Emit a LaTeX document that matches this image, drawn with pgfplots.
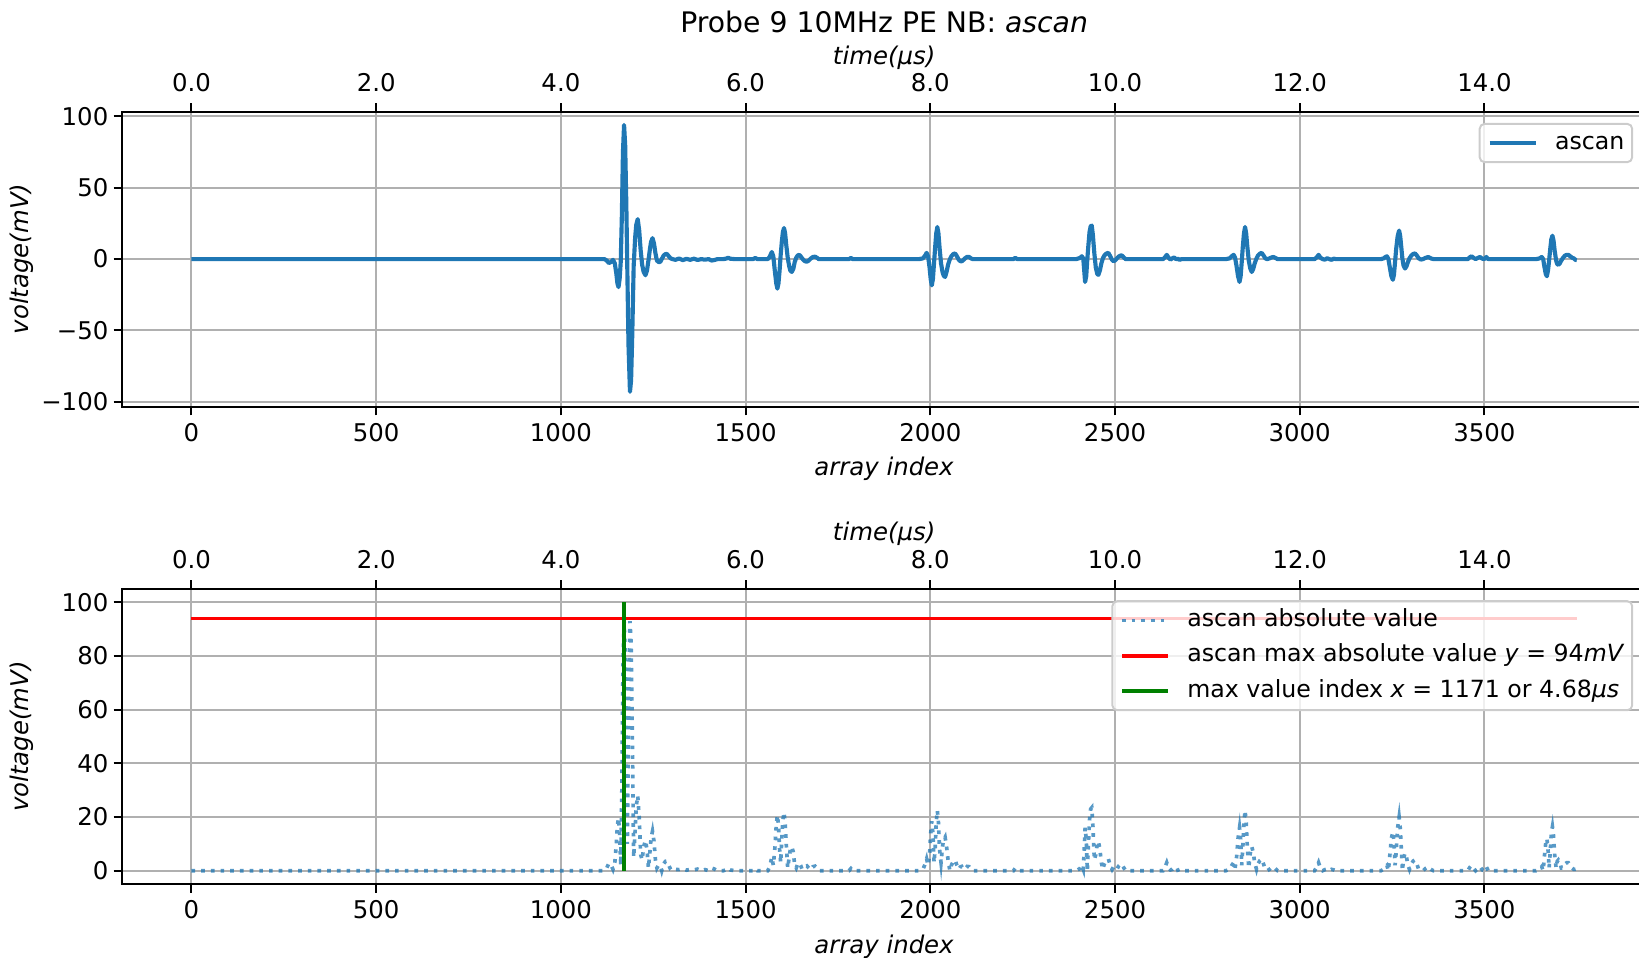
\documentclass[border=0pt]{standalone}
\usepackage{fontspec}
\setmainfont{DejaVu Sans}
\usepackage{pgfplots}
\usepackage{pgfplotstable}
\pgfplotsset{compat=1.18}

\definecolor{c0}{HTML}{1F77B4}
\definecolor{gridc}{HTML}{B0B0B0}
\definecolor{legframe}{HTML}{CCCCCC}
\definecolor{mplgreen}{HTML}{008000}
\definecolor{mplred}{HTML}{FF0000}
\newcommand{\fs}{\fontsize{10}{12}\selectfont}
\newcommand{\lfs}{\fontsize{9.7}{11.6}\selectfont}

% ascan samples (array index, mV)
\pgfplotstableread{
idx mv
0 0
1100 0
1118 0
1124 -1
1130 -2.8
1136 -2
1141 -0.5
1146 -3
1150 -10
1153 -17
1156 -19.6
1159 -14
1162 -2
1165 30
1168 75
1171 94
1174 80
1177 40
1180 -10
1183 -60
1187 -93
1190 -85
1193 -55
1197 -5
1201 15
1204 24
1208 28
1212 20
1216 6
1220 -4
1224 -9
1229 -11.3
1233 -8
1237 -1
1241 7
1244 12
1248 14.7
1252 11
1256 4
1260 -1
1264 -2
1269 -2
1273 0
1278 2.5
1283 3.5
1287 3.6
1292 2
1297 0.5
1302 0
1310 -0.5
1320 0.4
1330 -0.7
1340 0.2
1350 -0.5
1360 0.3
1370 -0.6
1380 0
1390 -0.4
1400 0
1408 -1
1416 -0.6
1424 0
1440 0
1448 0.4
1453 1
1458 0.3
1470 0
1520 0
1526 0.8
1532 0
1560 0
1565 1.5
1571 5
1575 2
1579 -8
1583 -17
1586 -20.7
1589 -17
1592 -8
1595 3
1598 12
1601 19
1604 21.8
1607 18
1610 10
1614 1
1618 -5
1621 -8
1625 -9
1629 -7
1633 -2
1637 1
1641 2.5
1645 3
1649 2
1653 0.5
1658 -1
1662 -1.6
1666 -1.8
1671 -1
1676 0.3
1682 1.5
1688 1.7
1693 1
1698 0
1780 0
1785 0.8
1790 0
1970 0
1980 0.5
1986 2.5
1990 4.4
1994 2
1998 -6
2001 -14
2004 -18.4
2007 -14
2010 -3
2013 8
2016 18
2019 22.5
2022 18
2025 8
2029 -3
2033 -9
2036 -11.5
2040 -12.5
2044 -9
2048 -4
2053 0
2057 2
2062 3.5
2067 4
2072 2
2077 -0.5
2081 -1.4
2085 -1.6
2090 -0.5
2095 0.8
2100 1.6
2105 1.5
2110 0.5
2115 0
2225 0
2230 0.9
2235 0
2395 0
2405 0.8
2410 2
2414 0.5
2416 -6
2419 -16
2422 -12
2425 0
2428 10
2431 19
2434 23
2437 23.5
2440 17
2444 4
2448 -6
2452 -10.5
2455 -11
2459 -8
2463 -3
2467 0.5
2471 2.5
2476 3.8
2482 4.4
2487 2
2492 -0.5
2496 -1.5
2500 -1
2505 0.5
2510 1.8
2515 2.5
2519 2.5
2524 1
2529 0
2630 0
2635 1.2
2640 3
2645 1
2650 -0.3
2655 0.5
2660 1.2
2665 0
2670 0.2
2675 -0.5
2680 0
2800 0
2810 0.5
2816 2
2821 3
2825 1
2829 -5
2833 -12
2837 -16
2840 -12
2843 -2
2846 9
2849 18
2852 22.5
2855 18
2858 9
2862 -1
2866 -6.5
2870 -9
2874 -7
2878 -3
2883 0.5
2887 2.5
2892 3.8
2897 4.4
2902 2.5
2907 0.5
2912 0
2918 0.5
2924 1.2
2929 1.5
2934 0.8
2940 0
3040 0
3046 1.2
3051 3
3056 1
3062 0
3068 -0.4
3074 0.6
3080 0
3086 -0.5
3092 0.3
3098 0
3220 0
3228 0.6
3232 1.5
3236 2
3240 0
3244 -6
3248 -12
3252 -14.5
3255 -11
3258 -2
3261 7
3265 16
3269 20
3272 16
3275 8
3278 0
3281 -4.5
3285 -6.6
3289 -5
3293 -2
3297 0.5
3302 2.5
3307 3.6
3312 4
3317 2.5
3322 0.5
3328 -0.3
3334 0
3340 0.8
3348 1.5
3355 0.5
3362 0
3455 0
3460 1.2
3465 2
3470 1
3476 0
3482 0.8
3488 1.5
3494 0.3
3500 0
3505 1.5
3510 0
3640 0
3648 0.4
3652 1
3655 1.5
3659 0
3662 -5
3666 -10.5
3669 -12
3672 -8
3675 -1
3678 7
3681 14
3684 16.4
3687 13
3690 6
3694 -1
3697 -3.5
3700 -4
3704 -3
3708 -1
3713 1
3718 2.5
3723 3
3727 3
3732 2
3737 1
3742 0.5
3746 -0.5
3750 -0.7
}\ascan

\pgfplotsset{
  base/.style={
    scale only axis, width=624.8pt, height=121pt,
    anchor=south west,
    xmin=-187.5, xmax=3937.5,
    axis line style={black, line width=0.8pt},
    tick style={black, line width=0.8pt},
    tick align=outside, major tick length=3.5pt,
    xtick pos=bottom, ytick pos=left,
    grid=major, grid style={gridc, line width=0.8pt},
    xtick={0,500,...,3500},
    xticklabels={0,500,1000,1500,2000,2500,3000,3500},
    tick label style={font=\fs},
    xticklabel style={anchor=north, inner sep=0pt, yshift=-3.1pt},
    yticklabel style={anchor=east, inner sep=0pt, xshift=-2pt},
    legend cell align=left,
    legend image code/.code={\draw[##1] (0pt,0pt) -- (19pt,0pt);},
    legend style={font=\lfs, at={(1,1)}, anchor=north east,
      xshift=-5.3pt, yshift=-4.6pt,
      draw=legframe, line width=0.8pt, fill=white, fill opacity=0.8,
      text opacity=1, rounded corners=2pt,
      inner xsep=3.2pt, inner ysep=3pt,
      nodes={inner sep=0pt, text height=7.4pt, text depth=2.3pt},
      row sep=4.8pt,
      /tikz/every odd column/.append style={column sep=7pt}},
  },
  timeax/.style={
    scale only axis, width=624.8pt, height=121pt,
    anchor=south west,
    xmin=-0.75, xmax=15.75, ymin=0, ymax=1,
    axis x line*=top, axis y line=none,
    axis line style={black, line width=0.8pt, -},
    tick style={black, line width=0.8pt},
    tick align=outside, major tick length=3.5pt,
    xtick={0,2,...,14},
    xticklabels={0.0,2.0,4.0,6.0,8.0,10.0,12.0,14.0},
    tick label style={font=\fs},
    xticklabel style={anchor=south, inner sep=0pt, yshift=4.5pt},
  },
}

\begin{document}
\begin{tikzpicture}
\useasboundingbox (0,0) rectangle (672pt,392.4pt);

% top: raw ascan
\begin{axis}[base, at={(50.1pt,225.6pt)},
  ymin=-103.5, ymax=103.3,
  ytick={-100,-50,0,50,100},
  yticklabels={−100,−50,0,50,100}]
\addplot[c0, line width=1.7pt, line join=round] table[x=idx, y=mv] {\ascan};
\addlegendentry{ascan}
\end{axis}
\begin{axis}[timeax, at={(50.1pt,225.6pt)}]
\end{axis}

% bottom: absolute value
\begin{axis}[base, at={(50.1pt,29.9pt)},
  ymin=-5, ymax=105,
  ytick={0,20,...,100},
  yticklabels={0,20,40,60,80,100}]
\addplot[c0, opacity=0.75, line width=1.5pt, dash pattern=on 1.5pt off 2.475pt]
  table[x=idx, y expr={abs(\thisrow{mv})}] {\ascan};
\addlegendentry{ascan absolute value}
\addplot[mplred, line width=1.5pt] coordinates {(0,94) (3750,94)};
\addlegendentry{ascan max absolute value \textit{y} = 94\textit{mV}}
\addplot[mplgreen, line width=1.5pt] coordinates {(1171,0) (1171,100)};
\addlegendentry{max value index \textit{x} = 1171 or 4.68\textit{µs}}
\end{axis}
\begin{axis}[timeax, at={(50.1pt,29.9pt)}]
\end{axis}

% titles and axis labels
\node[font=\fontsize{11.6}{14}\selectfont] at (362.5pt,383.4pt) {Probe 9 10MHz PE NB: \textit{ascan}};
\node[font=\fs] at (362.5pt,368.9pt) {\textit{time(µs)}};
\node[font=\fs] at (362.5pt,173.5pt) {\textit{time(µs)}};
\node[font=\fs] at (362.5pt,200.0pt) {\textit{array index}};
\node[font=\fs] at (362.5pt,4.3pt) {\textit{array index}};
\node[font=\fs, rotate=90] at (8.9pt,286.2pt) {\textit{voltage(mV)}};
\node[font=\fs, rotate=90] at (8.9pt,90.4pt) {\textit{voltage(mV)}};
\end{tikzpicture}
\end{document}
